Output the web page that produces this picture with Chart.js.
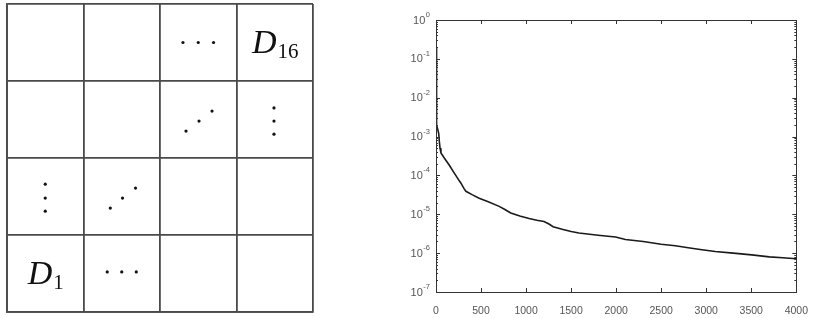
<!DOCTYPE html>
<html>
<head>
<meta charset="utf-8">
<script src="https://cdn.jsdelivr.net/npm/chart.js@4.4.0/dist/chart.umd.min.js"></script>
<style>
  body { margin: 0; background: #fff; width: 813px; height: 318px; overflow: hidden; position: relative; }
  #gridBox { position: absolute; left: 0; top: 0; width: 320px; height: 318px; }
  #errBox { position: absolute; left: 396px; top: 0; width: 417px; height: 318px; }
</style>
</head>
<body>
<div id="gridBox"><canvas id="gridChart"></canvas></div>
<div id="errBox"><canvas id="errChart"></canvas></div>
<script>
// --- left panel: 4x4 block layout ---
const cellLabels = ['D', 'D'];
const cellSubs = ['16', '1'];
const cellX = [3.5, 0.5];
const cellY = [3.5, 0.5];
// ellipsis dots, in cell units
const dotsX = [2.3, 2.5, 2.7,  2.34, 2.51, 2.68,  3.49, 3.49, 3.49,  0.5, 0.5, 0.5,  1.35, 1.51, 1.68,  1.31, 1.5, 1.69];
const dotsY = [3.5, 3.5, 3.5,  2.35, 2.48, 2.61,  2.65, 2.48, 2.31,  1.66, 1.48, 1.31,  1.35, 1.48, 1.61,  0.52, 0.52, 0.52];

// --- right panel: error vs iteration ---
const iters = [0, 3, 6, 10, 20, 30, 37, 45, 55, 92, 150, 203, 250, 277, 313, 332, 400, 479, 580, 701, 760, 830, 930,
  1033, 1120, 1199, 1254, 1300, 1400, 1500, 1586, 1800, 1993, 2103, 2300, 2500, 2657, 2800, 2952, 3100, 3300, 3505, 3700, 3850, 4000];
const errs = [0.2, 0.05, 0.01, 2.0e-3, 1.5e-3, 1.2e-3, 7.5e-4, 5.0e-4, 3.8e-4, 2.8e-4, 1.8e-4, 1.15e-4, 7.8e-5, 6.3e-5, 4.5e-5, 3.9e-5, 3.2e-5, 2.6e-5, 2.1e-5, 1.6e-5, 1.35e-5, 1.08e-5, 9.0e-6,
  7.8e-6, 7.0e-6, 6.5e-6, 5.6e-6, 4.8e-6, 4.1e-6, 3.6e-6, 3.3e-6, 2.9e-6, 2.6e-6, 2.25e-6, 2.0e-6, 1.7e-6, 1.55e-6, 1.38e-6, 1.22e-6, 1.1e-6, 1.0e-6, 9.0e-7, 8.0e-7, 7.6e-7, 7.2e-7];
const xTicks = [0, 500, 1000, 1500, 2000, 2500, 3000, 3500, 4000];
const yTicks = [1e-7, 1e-6, 1e-5, 1e-4, 1e-3, 1e-2, 1e-1, 1];
const yExps = ['-7', '-6', '-5', '-4', '-3', '-2', '-1', '0'];

const cellText = {
  id: 'cellText',
  afterDatasetsDraw(chart) {
    const ctx = chart.ctx;
    const sx = chart.scales.x, sy = chart.scales.y;
    ctx.save();
    ctx.fillStyle = '#111';
    ctx.textBaseline = 'alphabetic';
    for (let i = 0; i < cellLabels.length; i++) {
      ctx.font = 'italic 34px "Liberation Serif", "DejaVu Serif", serif';
      const w1 = ctx.measureText(cellLabels[i]).width;
      ctx.font = '21px "Liberation Serif", "DejaVu Serif", serif';
      const w2 = ctx.measureText(cellSubs[i]).width;
      const cx = sx.getPixelForValue(cellX[i]);
      const cy = sy.getPixelForValue(cellY[i]);
      const left = cx - (w1 + w2) / 2;
      ctx.font = 'italic 34px "Liberation Serif", "DejaVu Serif", serif';
      ctx.fillText(cellLabels[i], left, cy + 10);
      ctx.font = '21px "Liberation Serif", "DejaVu Serif", serif';
      ctx.fillText(cellSubs[i], left + w1 + 1, cy + 15);
    }
    ctx.restore();
  }
};

new Chart(document.getElementById('gridChart'), {
  type: 'scatter',
  data: {
    datasets: [{
      data: dotsX.map((x, i) => ({x: x, y: dotsY[i]})),
      pointRadius: 1.6,
      pointBackgroundColor: '#111',
      pointBorderWidth: 0
    }]
  },
  options: {
    responsive: true,
    maintainAspectRatio: false,
    animation: false,
    layout: { padding: { left: 7, top: 4, right: 7, bottom: 6 } },
    plugins: { legend: { display: false }, tooltip: { enabled: false } },
    scales: {
      x: {
        type: 'linear', min: 0, max: 4,
        ticks: { display: false, stepSize: 1 },
        grid: { color: '#4a4a4a', lineWidth: 1.8, drawTicks: false },
        border: { display: true, color: '#4a4a4a', width: 1.8 }
      },
      y: {
        type: 'linear', min: 0, max: 4,
        ticks: { display: false, stepSize: 1 },
        grid: { color: '#4a4a4a', lineWidth: 1.8, drawTicks: false },
        border: { display: true, color: '#4a4a4a', width: 1.8 }
      }
    }
  },
  plugins: [cellText]
});

// box, inward ticks and 10^n labels, matlab style
const boxTicks = {
  id: 'boxTicks',
  afterDraw(chart) {
    const ctx = chart.ctx;
    const a = chart.chartArea;
    const sx = chart.scales.x, sy = chart.scales.y;
    ctx.save();
    ctx.strokeStyle = '#333';
    ctx.lineWidth = 1;
    ctx.strokeRect(Math.round(a.left) + 0.5, Math.round(a.top) + 0.5, Math.round(a.right - a.left), Math.round(a.bottom - a.top));
    ctx.beginPath();
    xTicks.forEach(v => {
      const px = Math.round(sx.getPixelForValue(v)) + 0.5;
      ctx.moveTo(px, a.bottom); ctx.lineTo(px, a.bottom - 4);
      ctx.moveTo(px, a.top); ctx.lineTo(px, a.top + 4);
    });
    yTicks.forEach(v => {
      for (let m = 1; m <= 9; m++) {
        const val = v * m;
        if (val > 1) break;
        const py = Math.round(sy.getPixelForValue(val)) + 0.5;
        const len = m === 1 ? 4 : 2;
        ctx.moveTo(a.left, py); ctx.lineTo(a.left + len, py);
        ctx.moveTo(a.right, py); ctx.lineTo(a.right - len, py);
      }
    });
    ctx.stroke();

    ctx.fillStyle = '#555';
    ctx.textBaseline = 'alphabetic';
    yTicks.forEach((v, i) => {
      const py = sy.getPixelForValue(v);
      ctx.font = '7.5px "Liberation Sans", Arial, sans-serif';
      const we = ctx.measureText(yExps[i]).width;
      ctx.font = '11px "Liberation Sans", Arial, sans-serif';
      const wb = ctx.measureText('10').width;
      const right = a.left - 6;
      ctx.fillText('10', right - we - wb - 0.5, py + 3.5);
      ctx.font = '7.5px "Liberation Sans", Arial, sans-serif';
      ctx.fillText(yExps[i], right - we, py - 3);
    });
    ctx.restore();
  }
};

new Chart(document.getElementById('errChart'), {
  type: 'line',
  data: {
    datasets: [{
      data: iters.map((x, i) => ({x: x, y: errs[i]})),
      borderColor: '#1a1a1a',
      borderWidth: 1.6,
      pointRadius: 0,
      tension: 0,
      fill: false
    }]
  },
  options: {
    responsive: true,
    maintainAspectRatio: false,
    animation: false,
    layout: { padding: { left: 0, top: 20, right: 15, bottom: 0 } },
    plugins: { legend: { display: false }, tooltip: { enabled: false } },
    scales: {
      x: {
        type: 'linear', min: 0, max: 4000,
        afterBuildTicks: axis => { axis.ticks = xTicks.map(v => ({value: v})); },
        afterFit: scale => { scale.height = 26; },
        ticks: {
          color: '#555', font: { family: '"Liberation Sans", Arial, sans-serif', size: 10.5 }, padding: 5,
          autoSkip: false, maxRotation: 0,
          callback: v => String(v)
        },
        grid: { display: false },
        border: { display: false }
      },
      y: {
        type: 'logarithmic', min: 1e-7, max: 1,
        afterBuildTicks: axis => { axis.ticks = yTicks.map(v => ({value: v})); },
        afterFit: scale => { scale.width = 40; },
        ticks: { display: false },
        grid: { display: false },
        border: { display: false }
      }
    }
  },
  plugins: [boxTicks]
});
</script>
</body>
</html>
